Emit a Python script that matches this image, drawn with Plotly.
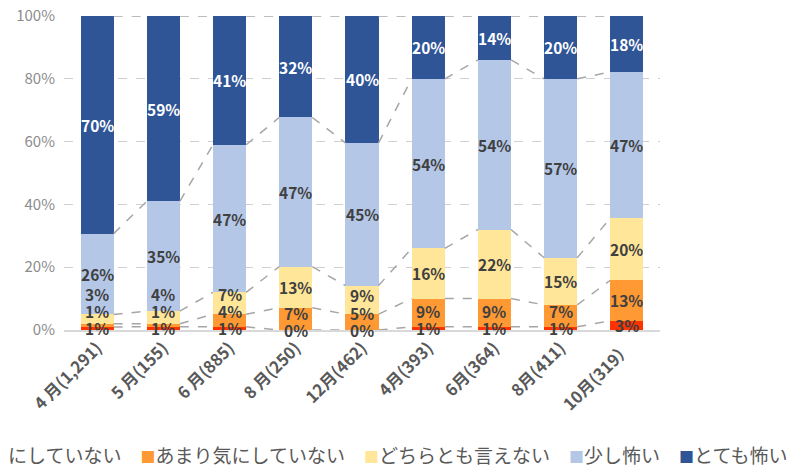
import plotly.graph_objects as go

categories = ["4 月(1,291)", "5 月(155)", "6 月(885)", "8 月(250)", "12月(462)",
              "4月(393)", "6月(364)", "8月(411)", "10月(319）"]
series_names = ["全く気にしていない", "あまり気にしていない", "どちらとも言えない", "少し怖い", "とても怖い"]
not_at_all = [1, 1, 1, 0, 0, 1, 1, 1, 3]
not_much = [1, 1, 4, 7, 5, 9, 9, 7, 13]
neutral = [3, 4, 7, 13, 9, 16, 22, 15, 20]
bit_scary = [26, 35, 47, 47, 45, 54, 54, 57, 47]
very_scary = [70, 59, 41, 32, 40, 20, 14, 20, 18]
y_ticks = [0, 20, 40, 60, 80, 100]
y_tick_labels = ["0%", "20%", "40%", "60%", "80%", "100%"]

series_values = [not_at_all, not_much, neutral, bit_scary, very_scary]
colors = ["#FF3300", "#FF9933", "#FFE699", "#B4C7E7", "#2F5597"]
label_colors = ["#404040", "#404040", "#404040", "#404040", "#FFFFFF"]
FONT = "Noto Sans CJK JP"

n = len(categories)
xs = list(range(n))
totals = [sum(s[i] for s in series_values) for i in range(n)]
norm = [[s[i] / totals[i] * 100 for i in range(n)] for s in series_values]

fig = go.Figure()
bar_w = 0.5
for name, vals, col in zip(series_names, norm, colors):
    fig.add_trace(go.Bar(x=xs, y=vals, name=name, marker=dict(color=col, line=dict(width=0)),
                         width=bar_w, hoverinfo="skip", showlegend=False))

# series lines connecting segment boundaries
cum = []
run = [0.0] * n
for vals in norm:
    run = [run[i] + vals[i] for i in range(n)]
    cum.append(run[:])
for k in range(len(cum)):
    lx, ly = [], []
    for i in range(n - 1):
        lx += [i + bar_w / 2, i + 1 - bar_w / 2, None]
        ly += [cum[k][i], cum[k][i + 1], None]
    fig.add_trace(go.Scatter(x=lx, y=ly, mode="lines", showlegend=False, hoverinfo="skip",
                             cliponaxis=False,
                             line=dict(color="#A6A6A6", width=1.5, dash="dash")))

# data labels
annotations = []
for i in range(n):
    prev_y = -1e9
    base = 0.0
    for k, vals in enumerate(norm):
        mid = base + vals[i] / 2
        y = max(mid, prev_y + 5.5)
        prev_y = y
        base += vals[i]
        annotations.append(dict(x=i, y=y, xref="x", yref="y", showarrow=False,
                                text=f"{series_values[k][i]}%",
                                font=dict(family=FONT, size=15.5, color=label_colors[k], weight="bold")))

# legend row (Excel-style, clipped on the left like the reference)
legend_text = "\u3000".join(
    f"<span style='color:{c};font-size:15px'>■</span>{name}" for name, c in zip(series_names, colors))
annotations.append(dict(x=1.2164, y=-0.395, xref="paper", yref="paper", xanchor="right",
                        yanchor="middle", showarrow=False, text=legend_text,
                        font=dict(family=FONT, size=19, color="#595959")))

fig.update_layout(
    width=795, height=465,
    margin=dict(l=56, r=143, t=8, b=143, autoexpand=False),
    barmode="stack",
    plot_bgcolor="white", paper_bgcolor="white",
    font=dict(family=FONT),
    annotations=annotations,
    showlegend=False,
    xaxis=dict(tickmode="array", tickvals=xs, ticktext=categories, tickangle=-45,
               range=[-0.5, n - 0.5], showgrid=False, showline=True, linecolor="#D9D9D9",
               linewidth=2, ticks="", tickfont=dict(family=FONT, size=16.5, color="#595959", weight="bold")),
    yaxis=dict(range=[0, 100], tickmode="array", tickvals=y_ticks, ticktext=y_tick_labels,
               showgrid=True, gridcolor="#D0D0D0", griddash="dash", gridwidth=1.3, zeroline=False,
               ticklabeloverflow="allow", ticklabelstandoff=8,
               tickfont=dict(family=FONT, size=15, color="#8C8C8C")),
)

fig.write_html("out.html")
